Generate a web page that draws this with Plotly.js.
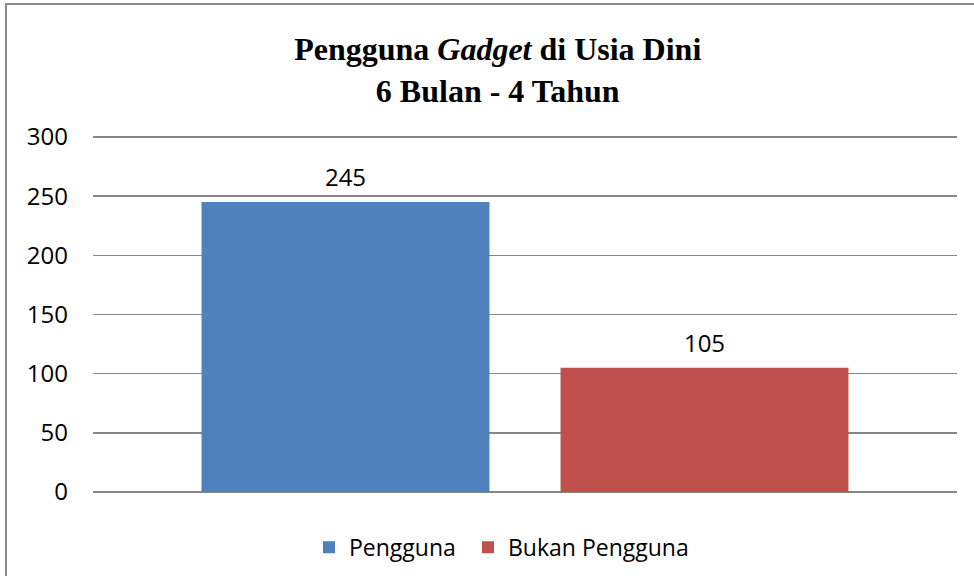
<!DOCTYPE html>
<html>
<head>
<meta charset="utf-8">
<script src="https://cdn.plot.ly/plotly-3.0.1.min.js"></script>
<style>
  html, body { margin: 0; padding: 0; background: #fff; overflow: hidden; }
  #chart { position: absolute; left: 0; top: 0; width: 974px; height: 576px; }
  #frame { position: absolute; left: 5px; top: 3px; width: 1000px; height: 600px;
           border: 2px solid #8c8c8c; pointer-events: none; }
</style>
</head>
<body>
<div id="chart"></div>
<div id="frame"></div>
<script>
const category = [""];
const seriesNames = ["Pengguna", "Bukan Pengguna"];
const penggunaValues = [245];
const bukanPenggunaValues = [105];
const yTicks = [0, 50, 100, 150, 200, 250, 300];
const colors = ["#4F81BD", "#C0504D"];

const baseFont = "Open Sans, Noto Sans, sans-serif";
const tickFont = { family: baseFont, size: 24, color: "#000" };
const legendFont = { family: baseFont, size: 23, color: "#000" };

const seriesValues = [penggunaValues, bukanPenggunaValues];
const legendIds = ["legend", "legend2"];

const barTraces = seriesValues.map((vals, i) => ({
  type: "bar",
  name: seriesNames[i],
  legend: legendIds[i],
  x: category,
  y: vals,
  offsetgroup: String(i),
  marker: { color: colors[i], line: { width: 0 } },
  hoverinfo: "none"
}));

const labelTraces = seriesValues.map((vals, i) => ({
  type: "scatter",
  mode: "markers+text",
  name: seriesNames[i] + " label",
  showlegend: false,
  x: category,
  y: vals,
  offsetgroup: String(i),
  text: vals.map(v => String(v)),
  textposition: "top center",
  textfont: tickFont,
  marker: { size: 14, opacity: 0, color: "#fff" },
  cliponaxis: false,
  hoverinfo: "none"
}));

const legendBase = {
  orientation: "h",
  xref: "container", xanchor: "left",
  y: 0.05, yref: "container", yanchor: "middle",
  font: legendFont,
  itemwidth: 30,
  bgcolor: "rgba(0,0,0,0)"
};

const layout = {
  width: 974,
  height: 576,
  margin: { l: 93, r: 17, t: 135, b: 84 },
  paper_bgcolor: "#fff",
  plot_bgcolor: "#fff",
  barmode: "group",
  bargap: 0.169,
  bargroupgap: 0.198,
  scattermode: "group",
  scattergap: 0.169,
  title: {
    text: "<b>Pengguna <i>Gadget</i> di Usia Dini<br>6 Bulan - 4 Tahun</b>",
    font: { family: "Liberation Serif, Times New Roman, serif", size: 32, color: "#000" },
    x: 0.511, xref: "container", xanchor: "center",
    y: 0.895, yref: "container", yanchor: "middle"
  },
  xaxis: {
    type: "category",
    showticklabels: false,
    showgrid: false,
    showline: false,
    zeroline: false,
    ticks: ""
  },
  yaxis: {
    range: [0, 301.7],
    tickvals: yTicks,
    ticktext: yTicks.map(String),
    showgrid: true,
    gridcolor: "#868686",
    gridwidth: 1.6,
    zeroline: true,
    zerolinecolor: "#868686",
    zerolinewidth: 1.6,
    showline: false,
    ticks: "",
    ticklabelstandoff: 24,
    tickfont: tickFont
  },
  showlegend: true,
  legend: Object.assign({}, legendBase, { x: 309 / 974 }),
  legend2: Object.assign({}, legendBase, { x: 468 / 974 })
};

Plotly.newPlot("chart", barTraces.concat(labelTraces), layout, { displayModeBar: false, staticPlot: true });
</script>
</body>
</html>
